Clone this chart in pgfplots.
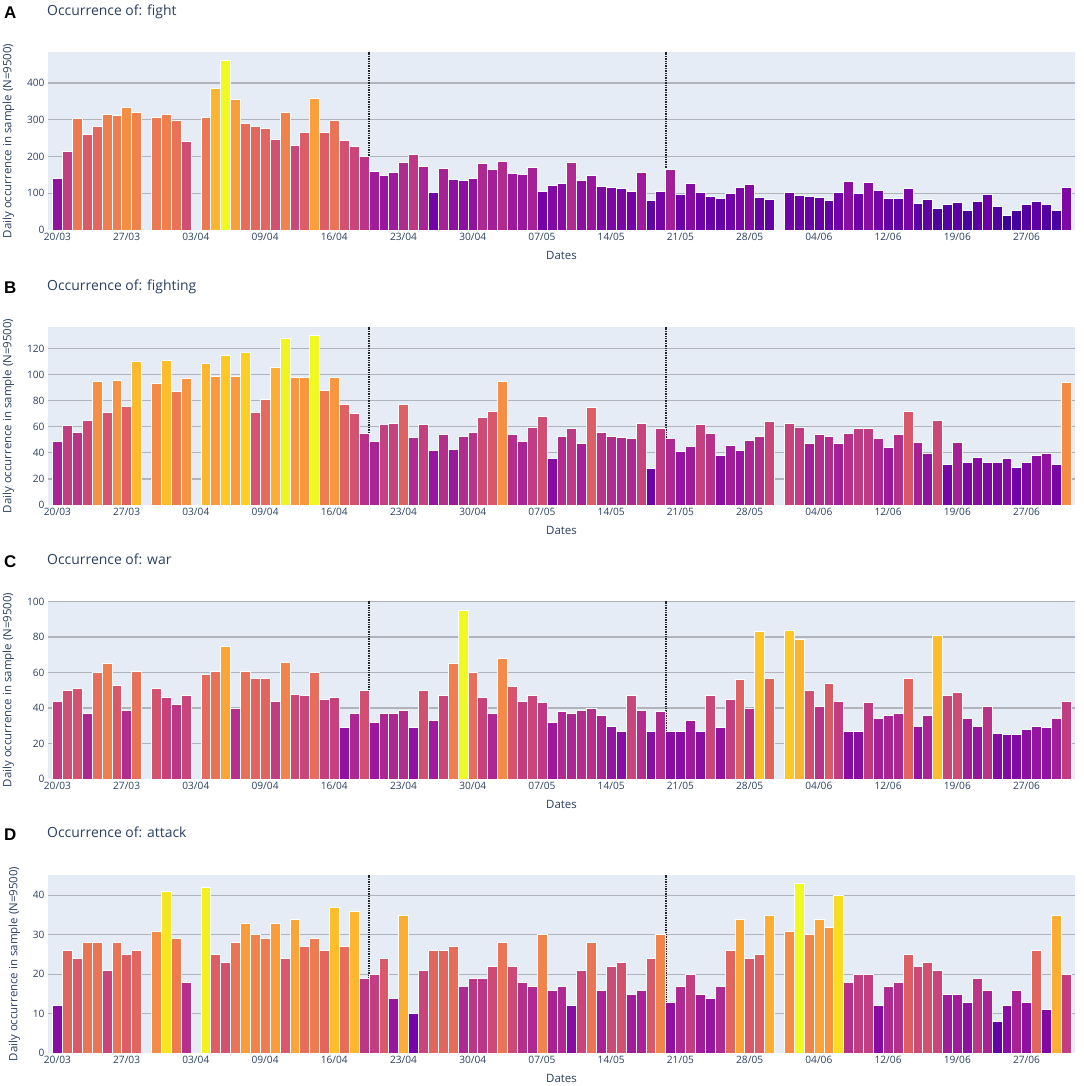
\documentclass[border=0pt]{standalone}
\usepackage{pgfplots}
\usepackage{pgfplotstable}
\pgfplotsset{compat=1.18}
\usepackage{fontspec}
\setmainfont{Open Sans}
\newfontfamily\letterfont{Liberation Sans}
\definecolor{bgc}{RGB}{229,236,246}
\definecolor{gridc}{RGB}{176,179,186}
\definecolor{tc}{RGB}{42,63,95}
\pgfplotsset{colormap={plasma}{rgb255=(13,8,135) rgb255=(70,3,159) rgb255=(114,1,168) rgb255=(156,23,158) rgb255=(189,55,134) rgb255=(216,87,107) rgb255=(237,121,83) rgb255=(251,159,58) rgb255=(253,202,38) rgb255=(240,249,33)}}

\pgfplotstableread{
i v
0 140
1 214
2 305
3 261
4 281
5 316
6 312
7 335
8 320
10 306
11 315
12 298
13 241
15 306
16 385
17 461
18 356
19 289
20 281
21 277
22 246
23 319
24 230
25 265
26 358
27 265
28 299
29 245
30 229
31 200
32 161
33 148
34 158
35 185
36 207
37 173
38 104
39 169
40 139
41 134
42 142
43 181
44 165
45 186
46 155
47 152
48 170
49 105
50 122
51 128
52 185
53 135
54 150
55 118
56 115
57 113
58 105
59 157
60 81
61 106
62 165
63 97
64 127
65 103
66 91
67 87
68 101
69 115
70 125
71 89
72 84
74 104
75 95
76 91
77 88
78 81
79 102
80 132
81 100
82 131
83 107
84 85
85 85
86 114
87 74
88 84
89 59
90 71
91 75
92 55
93 77
94 97
95 65
96 40
97 54
98 70
99 79
100 69
101 55
102 117
}\fightdata

\pgfplotstableread{
i v
0 49
1 61
2 56
3 65
4 95
5 71
6 96
7 76
8 110
10 93
11 111
12 87
13 97
15 109
16 99
17 115
18 99
19 117
20 71
21 81
22 106
23 128
24 98
25 98
26 130
27 88
28 98
29 77
30 70
31 55
32 49
33 62
34 63
35 77
36 52
37 62
38 42
39 54
40 43
41 53
42 56
43 67
44 72
45 95
46 54
47 49
48 60
49 68
50 36
51 53
52 59
53 47
54 75
55 56
56 53
57 52
58 51
59 63
60 28
61 59
62 51
63 41
64 45
65 62
66 55
67 38
68 46
69 42
70 50
71 53
72 64
74 63
75 60
76 47
77 54
78 53
79 47
80 55
81 59
82 59
83 51
84 44
85 54
86 72
87 48
88 40
89 65
90 31
91 48
92 33
93 37
94 33
95 33
96 36
97 29
98 33
99 38
100 40
101 31
102 94
}\fightingdata

\pgfplotstableread{
i v
0 44
1 50
2 51
3 37
4 60
5 65
6 53
7 39
8 61
10 51
11 46
12 42
13 47
15 59
16 61
17 75
18 40
19 61
20 57
21 57
22 44
23 66
24 48
25 47
26 60
27 45
28 46
29 29
30 37
31 50
32 32
33 37
34 37
35 39
36 29
37 50
38 33
39 47
40 65
41 95
42 60
43 46
44 37
45 68
46 52
47 44
48 47
49 43
50 32
51 38
52 37
53 39
54 40
55 36
56 30
57 27
58 47
59 39
60 27
61 38
62 27
63 27
64 33
65 27
66 47
67 29
68 45
69 56
70 40
71 83
72 57
74 84
75 79
76 50
77 41
78 54
79 44
80 27
81 27
82 43
83 34
84 36
85 37
86 57
87 30
88 36
89 81
90 47
91 49
92 34
93 30
94 41
95 26
96 25
97 25
98 28
99 30
100 29
101 34
102 44
}\wardata

\pgfplotstableread{
i v
0 12
1 26
2 24
3 28
4 28
5 21
6 28
7 25
8 26
10 31
11 41
12 29
13 18
15 42
16 25
17 23
18 28
19 33
20 30
21 29
22 33
23 24
24 34
25 27
26 29
27 26
28 37
29 27
30 36
31 19
32 20
33 24
34 14
35 35
36 10
37 21
38 26
39 26
40 27
41 17
42 19
43 19
44 22
45 28
46 22
47 18
48 17
49 30
50 16
51 17
52 12
53 21
54 28
55 16
56 22
57 23
58 15
59 16
60 24
61 30
62 13
63 17
64 20
65 15
66 14
67 17
68 26
69 34
70 24
71 25
72 35
74 31
75 43
76 30
77 34
78 32
79 40
80 18
81 20
82 20
83 12
84 17
85 18
86 25
87 22
88 23
89 21
90 15
91 15
92 13
93 19
94 16
95 8
96 12
97 16
98 13
99 26
100 11
101 35
102 20
}\attackdata

\def\ymaxval{1}
\pgfdeclareplotmark{vbar}{%
  \pgfpathrectangle{\pgfpoint{-4.945bp}{0bp}}{\pgfpoint{9.89bp}{-\ry/\ymaxval*178bp}}%
  \pgfusepathqfillstroke}

\pgfplotsset{
  panel/.style={
    scale only axis, width=1027bp, height=178bp,
    xmin=-0.95, xmax=102.9, ymin=0,
    axis background/.style={fill=bgc},
    axis line style={draw=none},
    major tick length=0pt,
    ymajorgrids, grid style={gridc, line width=1.3bp},
    extra y ticks={0}, extra y tick style={grid=none},
    xtick={0,7,...,98},
    xticklabels={20/03,27/03,03/04,09/04,16/04,23/04,30/04,07/05,14/05,21/05,28/05,04/06,12/06,19/06,27/06},
    tick label style={font=\fontsize{10.2}{12}\selectfont, text=tc},
    /pgf/number format/assume math mode=true,
    xlabel={Dates},
    xlabel style={font=\fontsize{11.5}{13}\selectfont, text=tc, yshift=-3bp},
    ylabel={Daily occurrence in sample (N=9500)},
    ylabel style={font=\fontsize{11.5}{13}\selectfont, text=tc, yshift=6bp},
    point meta min=0,
    colormap name=plasma,
    clip=false,
    anchor=south west,
  },
  bars/.style={scatter, only marks, mark=vbar, point meta=y,
    scatter/use mapped color={draw=white, fill=mapped color}, line width=0.5bp,
    visualization depends on={\thisrow{v} \as \ry}},
  sep/.style={black!85, line width=2bp, dash pattern=on 1.4bp off 1bp, mark=none}
}
\tikzset{
  letter/.style={anchor=base west, inner sep=0pt, font=\letterfont\bfseries\fontsize{17}{19}\selectfont},
  ttl/.style={anchor=base west, inner sep=0pt, font=\fontsize{14}{16}\selectfont, text=tc}
}

\begin{document}
\begin{tikzpicture}
\path[use as bounding box] (0,0) rectangle (1084bp,-1086bp);

% ---- A
\def\ymaxval{484}
\begin{axis}[panel, at={(48bp,-230bp)}, ymax=484, ytick={100,200,...,400}]
\addplot[bars] table[x=i,y=v]{\fightdata};
\addplot[sep] coordinates {(31.5,0) (31.5,484)};
\addplot[sep] coordinates {(61.5,0) (61.5,484)};
\end{axis}
\node[letter] at (4bp,-18.5bp) {A};
\node[ttl] at (47bp,-15bp) {Occurrence of: fight};

% ---- B
\def\ymaxval{136.5}
\begin{axis}[panel, at={(48bp,-505bp)}, ymax=136.5, ytick={20,40,...,120}]
\addplot[bars] table[x=i,y=v]{\fightingdata};
\addplot[sep] coordinates {(31.5,0) (31.5,136.5)};
\addplot[sep] coordinates {(61.5,0) (61.5,136.5)};
\end{axis}
\node[letter] at (4bp,-293.5bp) {B};
\node[ttl] at (47bp,-290bp) {Occurrence of: fighting};

% ---- C
\def\ymaxval{100.3}
\begin{axis}[panel, at={(48bp,-779bp)}, ymax=100.3, ytick={20,40,...,100}]
\addplot[bars] table[x=i,y=v]{\wardata};
\addplot[sep] coordinates {(31.5,0) (31.5,100.3)};
\addplot[sep] coordinates {(61.5,0) (61.5,100.3)};
\end{axis}
\node[letter] at (4bp,-567.5bp) {C};
\node[ttl] at (47bp,-564bp) {Occurrence of: war};

% ---- D
\def\ymaxval{45.15}
\begin{axis}[panel, at={(48bp,-1053bp)}, ymax=45.15, ytick={10,20,...,40}]
\addplot[bars] table[x=i,y=v]{\attackdata};
\addplot[sep] coordinates {(31.5,0) (31.5,45.15)};
\addplot[sep] coordinates {(61.5,0) (61.5,45.15)};
\end{axis}
\node[letter] at (4bp,-840.5bp) {D};
\node[ttl] at (47bp,-837bp) {Occurrence of: attack};
\end{tikzpicture}
\end{document}
